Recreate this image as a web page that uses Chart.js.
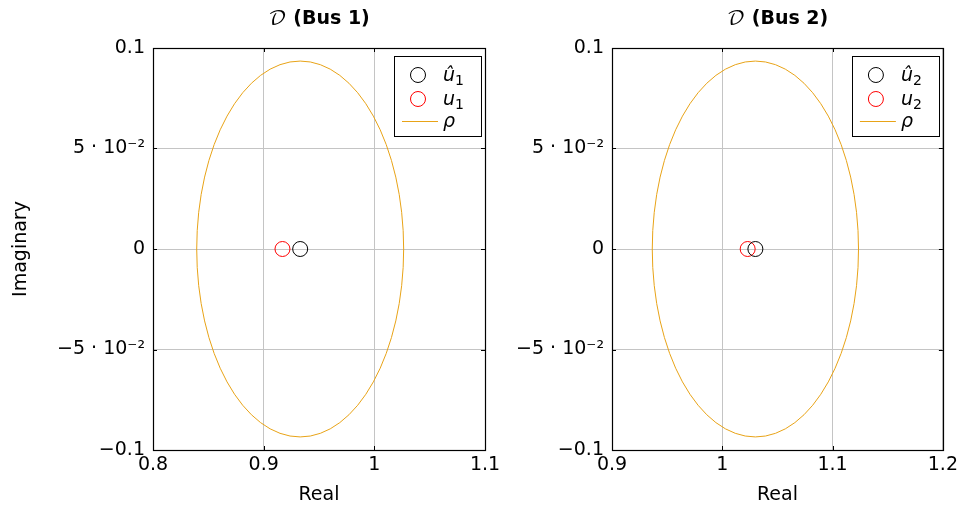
<!DOCTYPE html>
<html>
<head>
<meta charset="utf-8">
<title>D (Bus 1) / D (Bus 2)</title>
<script src="https://cdn.jsdelivr.net/npm/chart.js@4/dist/chart.umd.min.js"></script>
<style>
  html, body { margin: 0; padding: 0; background: #fff; }
  #wrap { position: relative; width: 962px; height: 511px; }
  #wrap canvas { position: absolute; left: 0; top: 0; }
</style>
</head>
<body>
<div id="wrap">
  <canvas id="bus1" width="962" height="511"></canvas>
  <canvas id="bus2" width="962" height="511"></canvas>
</div>
<script>
// operating points per bus (real, imaginary)
const busNames = ['Bus 1', 'Bus 2'];
const busIndex = ['1', '2'];
const uHatRe = [0.933, 1.030];
const uHatIm = [0, 0];
const uRe = [0.917, 1.023];
const uIm = [0, 0];
// admissible disc: centred on u-hat, radius rho
const rhoRadius = [0.0935, 0.0935];

const xMin = [0.8, 0.9];
const xMax = [1.1, 1.2];
const xTickLabels1 = ['0.8', '0.9', '1', '1.1'];
const xTickLabels2 = ['0.9', '1', '1.1', '1.2'];
const yTickLabels = ['\u22120.1', '\u22125 \u00b7 10\u207b\u00b2', '0', '5 \u00b7 10\u207b\u00b2', '0.1'];

const ORANGE = '#e8a317';
const FONT = 'DejaVu Sans';

// rho circle, drawn in data units through the scales
const rhoCircle = {
    id: 'rhoCircle',
    beforeDatasetsDraw(chart, args, opts) {
        const xs = chart.scales.x, ys = chart.scales.y;
        const cx = xs.getPixelForValue(opts.re);
        const cy = ys.getPixelForValue(opts.im);
        const rx = Math.abs(xs.getPixelForValue(opts.re + opts.r) - cx);
        const ry = Math.abs(ys.getPixelForValue(opts.im + opts.r) - cy);
        const ctx = chart.ctx;
        ctx.save();
        ctx.strokeStyle = ORANGE;
        ctx.lineWidth = 1;
        ctx.beginPath();
        ctx.ellipse(cx, cy, rx, ry, 0, 0, Math.PI * 2);
        ctx.stroke();
        ctx.restore();
    }
};

// closed axis box with inward tick marks on every side
const axisFrame = {
    id: 'axisFrame',
    afterDatasetsDraw(chart) {
        const a = chart.chartArea, ctx = chart.ctx;
        const len = 4;
        ctx.save();
        ctx.strokeStyle = '#000';
        ctx.lineWidth = 1;
        ctx.beginPath();
        chart.scales.x.ticks.forEach(t => {
            const px = Math.round(chart.scales.x.getPixelForValue(t.value)) + 0.5;
            ctx.moveTo(px, a.bottom); ctx.lineTo(px, a.bottom - len);
            ctx.moveTo(px, a.top); ctx.lineTo(px, a.top + len);
        });
        chart.scales.y.ticks.forEach(t => {
            const py = Math.round(chart.scales.y.getPixelForValue(t.value)) + 0.5;
            ctx.moveTo(a.left, py); ctx.lineTo(a.left + len, py);
            ctx.moveTo(a.right, py); ctx.lineTo(a.right - len, py);
        });
        ctx.stroke();
        ctx.lineWidth = 1.2;
        ctx.strokeRect(Math.round(a.left) + 0.5, Math.round(a.top) + 0.5,
            Math.round(a.right - a.left), Math.round(a.bottom - a.top));
        ctx.restore();
    }
};

// title: script D followed by bold bus name
const busTitle = {
    id: 'busTitle',
    afterDraw(chart, args, opts) {
        const ctx = chart.ctx, a = chart.chartArea;
        const scriptFont = '20px "DejaVu Math TeX Gyre", "DejaVu Serif", serif';
        const boldFont = 'bold 19px "' + FONT + '"';
        const rest = ' (' + opts.text + ')';
        ctx.save();
        ctx.font = scriptFont;
        const w1 = ctx.measureText('\ud835\udc9f').width;
        ctx.font = boldFont;
        const w2 = ctx.measureText(rest).width;
        let x = (a.left + a.right) / 2 - (w1 + w2) / 2;
        const y = 19;
        ctx.fillStyle = '#000';
        ctx.textBaseline = 'middle';
        ctx.textAlign = 'left';
        ctx.font = scriptFont;
        ctx.fillText('\ud835\udc9f', x, y);
        ctx.font = boldFont;
        ctx.fillText(rest, x + w1, y);
        ctx.restore();
    }
};

// boxed legend in the upper right corner of the axis
const boxLegend = {
    id: 'boxLegend',
    afterDraw(chart, args, opts) {
        const ctx = chart.ctx, a = chart.chartArea;
        const w = 87, h = 80;
        const left = a.right - opts.right - w, top = a.top + 8;
        const rowY = [19, 43, 65];
        ctx.save();
        ctx.fillStyle = '#fff';
        ctx.fillRect(left, top, w, h);
        ctx.strokeStyle = '#000';
        ctx.lineWidth = 1;
        ctx.strokeRect(Math.round(left) + 0.5, Math.round(top) + 0.5, w, h);
        chart.data.datasets.forEach((ds, i) => {
            const y = top + rowY[i];
            ctx.strokeStyle = ds.borderColor;
            ctx.lineWidth = 1;
            ctx.beginPath();
            if (ds.legendLine) {
                ctx.moveTo(left + 8, y + 0.5);
                ctx.lineTo(left + 44, y + 0.5);
            } else {
                ctx.arc(left + 24, y, 7.5, 0, Math.PI * 2);
            }
            ctx.stroke();
            ctx.fillStyle = '#000';
            ctx.textBaseline = 'alphabetic';
            ctx.font = 'italic 19px "' + FONT + '"';
            const base = y + 6;
            ctx.fillText(ds.label, left + 49, base);
            if (ds.sub) {
                const bw = ctx.measureText(ds.label).width;
                ctx.font = '14px "' + FONT + '"';
                ctx.fillText(ds.sub, left + 49 + bw, base + 4);
            }
        });
        ctx.restore();
    }
};

Chart.defaults.font.family = FONT;
Chart.defaults.font.size = 19;
Chart.defaults.color = '#000';

function makeBus(canvasId, i, xLabels, plotLeft, plotRight, showYTitle) {
    return new Chart(document.getElementById(canvasId), {
        type: 'scatter',
        data: {
            datasets: [
                {
                    label: '\u00fb',
                    sub: busIndex[i],
                    data: [{ x: uHatRe[i], y: uHatIm[i] }],
                    borderColor: '#000',
                    backgroundColor: 'rgba(0,0,0,0)',
                    borderWidth: 1,
                    pointRadius: 7.5
                },
                {
                    label: 'u',
                    sub: busIndex[i],
                    data: [{ x: uRe[i], y: uIm[i] }],
                    borderColor: '#ff0000',
                    backgroundColor: 'rgba(0,0,0,0)',
                    borderWidth: 1,
                    pointRadius: 7.5
                },
                {
                    label: '\u03c1',
                    data: [],
                    borderColor: ORANGE,
                    legendLine: true
                }
            ]
        },
        options: {
            responsive: false,
            animation: false,
            events: [],
            layout: { padding: { left: 0, top: 48, right: 962 - plotRight, bottom: 0 } },
            plugins: {
                legend: { display: false },
                tooltip: { enabled: false },
                rhoCircle: { re: uHatRe[i], im: uHatIm[i], r: rhoRadius[i] },
                busTitle: { text: busNames[i] },
                boxLegend: { right: 4 }
            },
            scales: {
                x: {
                    type: 'linear',
                    min: xMin[i],
                    max: xMax[i],
                    afterFit(s) { s.height = 511 - 450; },
                    ticks: {
                        stepSize: 0.1,
                        padding: 4,
                        callback: (v, k) => xLabels[k]
                    },
                    grid: { color: '#c4c4c4', drawTicks: false },
                    border: { display: false },
                    title: { display: true, text: 'Real', padding: { top: 0, bottom: 5 } }
                },
                y: {
                    type: 'linear',
                    min: -0.1,
                    max: 0.1,
                    afterFit(s) { s.width = plotLeft; },
                    ticks: {
                        stepSize: 0.05,
                        padding: 8,
                        callback: (v, k) => yTickLabels[k]
                    },
                    grid: { color: '#c4c4c4', drawTicks: false },
                    border: { display: false },
                    title: { display: showYTitle, text: 'Imaginary', padding: { top: 10, bottom: 0 } }
                }
            }
        },
        plugins: [rhoCircle, axisFrame, busTitle, boxLegend]
    });
}

makeBus('bus1', 0, xTickLabels1, 153, 485, true);
makeBus('bus2', 1, xTickLabels2, 612, 943, false);
</script>
</body>
</html>
